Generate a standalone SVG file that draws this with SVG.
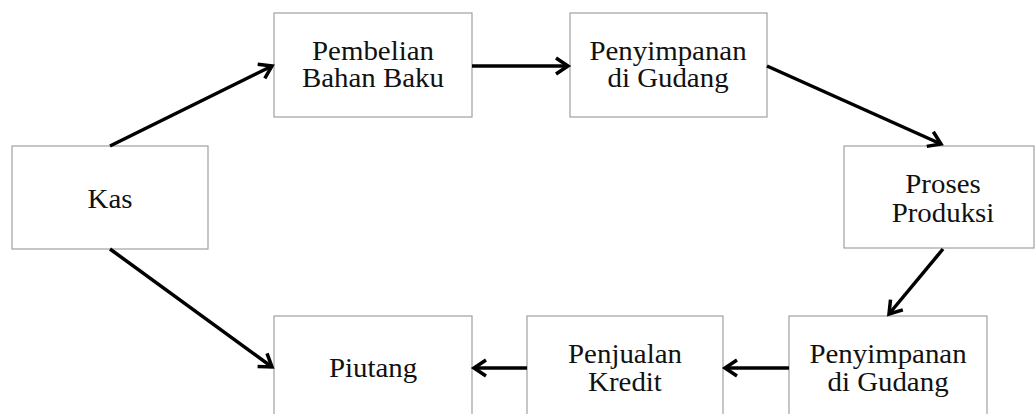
<svg xmlns="http://www.w3.org/2000/svg" width="1035" height="414" viewBox="0 0 1035 414">
<style>
.box{fill:#fff;stroke:#a0a0a0;stroke-width:1.2}
.t{font-family:"Liberation Serif","Times New Roman",serif;font-size:27px;fill:#111;text-anchor:middle}
.c{stroke:#000;stroke-width:3.5;fill:none;marker-end:url(#ah)}
</style>
<defs>
<marker id="ah" viewBox="0 0 20 20" refX="16" refY="10" markerWidth="20" markerHeight="20" markerUnits="userSpaceOnUse" orient="auto">
<path d="M4,2 L16,10 L4,18" fill="none" stroke="#000" stroke-width="3.5" stroke-linejoin="miter"/>
</marker>
</defs>
<rect width="1035" height="414" fill="#fff"/>
<g id="kas"><rect class="box" x="12" y="146" width="196" height="103"/><text class="t" transform="translate(110,208) scale(1.07,1)">Kas</text></g>
<g id="pembelian"><rect class="box" x="274" y="13" width="198" height="104"/><text class="t" transform="translate(373,60) scale(1.07,1)">Pembelian</text><text class="t" transform="translate(373,87) scale(1.07,1)">Bahan Baku</text></g>
<g id="penyimpanan1"><rect class="box" x="570" y="13" width="197" height="104"/><text class="t" transform="translate(668,60) scale(1.07,1)">Penyimpanan</text><text class="t" transform="translate(668,87) scale(1.07,1)">di Gudang</text></g>
<g id="proses"><rect class="box" x="844" y="146" width="190" height="102"/><text class="t" transform="translate(943,193) scale(1.07,1)">Proses</text><text class="t" transform="translate(943,222) scale(1.07,1)">Produksi</text></g>
<g id="penyimpanan2"><rect class="box" x="789" y="316" width="198" height="110"/><text class="t" transform="translate(888,363) scale(1.07,1)">Penyimpanan</text><text class="t" transform="translate(888,391) scale(1.07,1)">di Gudang</text></g>
<g id="penjualan"><rect class="box" x="527" y="316" width="196" height="110"/><text class="t" transform="translate(625,363) scale(1.07,1)">Penjualan</text><text class="t" transform="translate(625,391) scale(1.07,1)">Kredit</text></g>
<g id="piutang"><rect class="box" x="274" y="316" width="198" height="110"/><text class="t" transform="translate(373,377) scale(1.07,1)">Piutang</text></g>
<g id="connectors">
<line class="c" x1="110" y1="146" x2="272" y2="66"/>
<line class="c" x1="472" y1="66" x2="568" y2="66"/>
<line class="c" x1="767" y1="66" x2="941" y2="144"/>
<line class="c" x1="943" y1="249" x2="889" y2="314"/>
<line class="c" x1="789" y1="368" x2="725" y2="368"/>
<line class="c" x1="527" y1="368" x2="474" y2="368"/>
<line class="c" x1="110" y1="249" x2="272" y2="367"/>
</g>
</svg>
